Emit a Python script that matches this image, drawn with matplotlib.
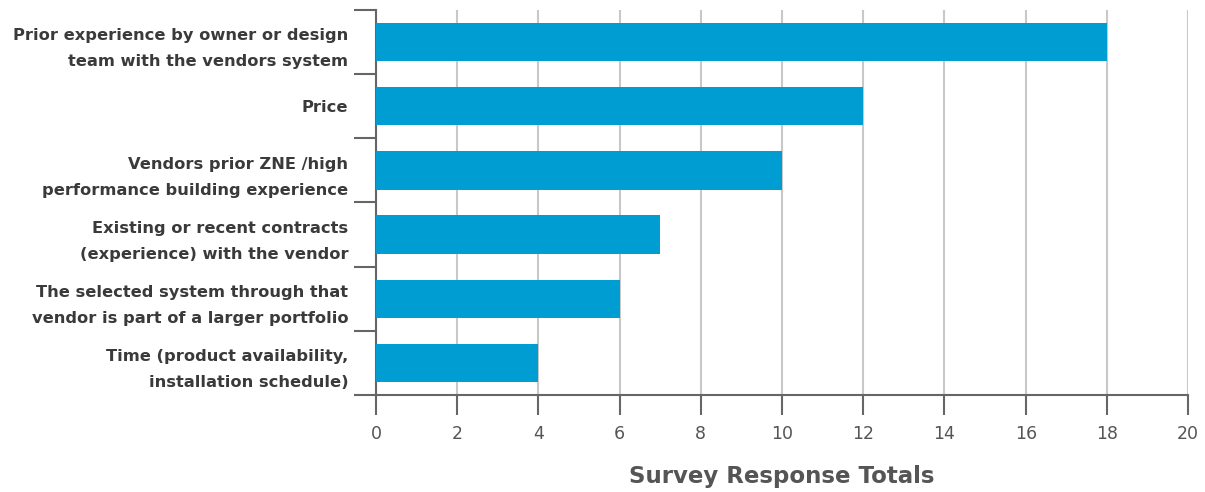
import numpy as np
import matplotlib
matplotlib.use("Agg")
from matplotlib import pyplot as plt

categories = [
    "Prior experience by owner or design\nteam with the vendors system",
    "Price",
    "Vendors prior ZNE /high\nperformance building experience",
    "Existing or recent contracts\n(experience) with the vendor",
    "The selected system through that\nvendor is part of a larger portfolio",
    "Time (product availability,\ninstallation schedule)",
]
totals = [18, 12, 10, 7, 6, 4]
xticks = [0, 2, 4, 6, 8, 10, 12, 14, 16, 18, 20]

bar_color = "#009dd2"
axis_color = "#666666"
text_color = "#3a3a3a"

fig = plt.figure(figsize=(12.05, 4.92), dpi=100)
ax = fig.add_axes([0.312, 0.197, 0.674, 0.783])

y = np.arange(len(categories))
ax.barh(y, totals, height=0.6, color=bar_color, zorder=3)

ax.set_xlim(0, 20)
ax.set_ylim(len(categories) - 0.5, -0.5)

ax.set_xticks(xticks)
ax.set_xticklabels([str(t) for t in xticks], fontsize=12.5, color="#555555")
ax.grid(axis="x", color="#c8c8c8", linewidth=1.5, zorder=0)
ax.tick_params(axis="x", length=14.5, width=1.5, color=axis_color, pad=7)

ax.set_yticks(y)
ax.set_yticklabels(categories, fontsize=11.7, color=text_color,
                   weight="bold", linespacing=1.9)
ax.tick_params(axis="y", which="major", length=0, pad=20)
ax.set_yticks(np.arange(-0.5, len(categories), 1.0), minor=True)
ax.tick_params(axis="y", which="minor", length=16, width=1.5, color=axis_color)

for s in ["top", "right"]:
    ax.spines[s].set_visible(False)
for s in ["left", "bottom"]:
    ax.spines[s].set_color(axis_color)
    ax.spines[s].set_linewidth(1.5)

ax.set_xlabel("Survey Response Totals", fontsize=16.5, color="#555555",
              weight="bold", labelpad=16)

fig.savefig("out.png", dpi=100)
